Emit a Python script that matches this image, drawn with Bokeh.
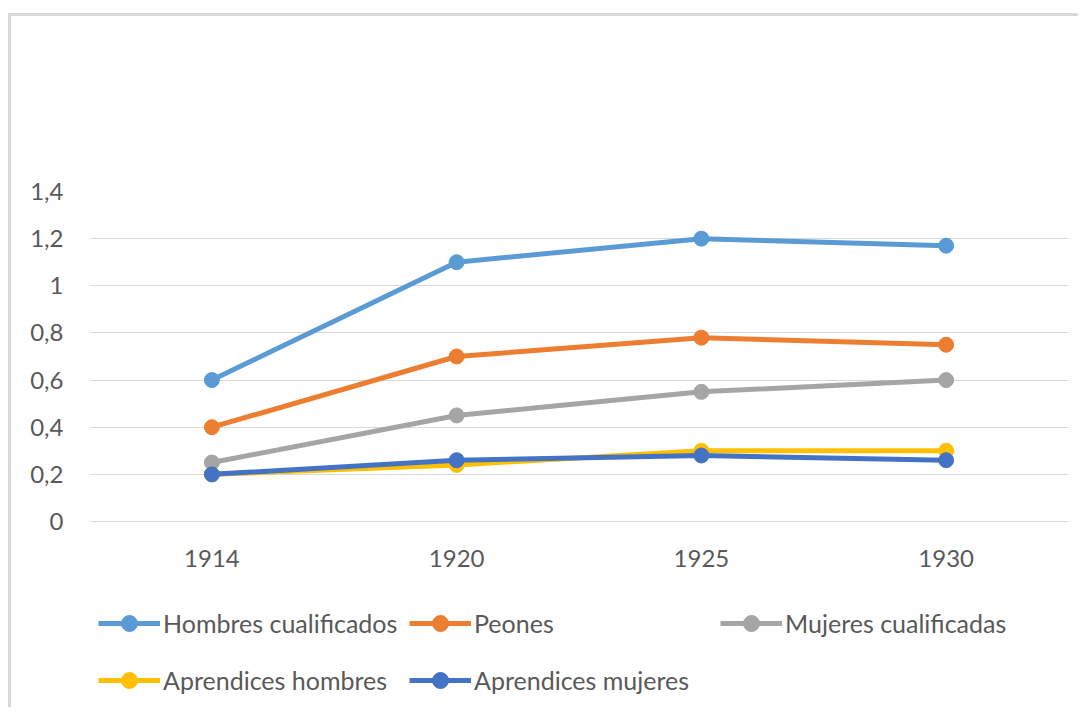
from bokeh.plotting import figure
from bokeh.models import FactorRange, Range1d, FixedTicker, Legend, LegendItem
from bokeh.core.properties import value
from bokeh.embed import file_html
from bokeh.resources import INLINE

years = ["1914", "1920", "1925", "1930"]
hombres_cualificados = [0.6, 1.1, 1.2, 1.17]
peones = [0.4, 0.7, 0.78, 0.75]
mujeres_cualificadas = [0.25, 0.45, 0.55, 0.6]
aprendices_hombres = [0.2, 0.24, 0.3, 0.3]
aprendices_mujeres = [0.2, 0.26, 0.28, 0.26]

series_names = ["Hombres cualificados", "Peones", "Mujeres cualificadas",
                "Aprendices hombres", "Aprendices mujeres"]
series_values = [hombres_cualificados, peones, mujeres_cualificadas,
                 aprendices_hombres, aprendices_mujeres]
colors = ["#5B9BD5", "#ED7D31", "#A5A5A5", "#FFC000", "#4472C4"]

y_ticks = [0, 0.2, 0.4, 0.6, 0.8, 1.0, 1.2, 1.4]
y_tick_labels = ["0", "0,2", "0,4", "0,6", "0,8", "1", "1,2", "1,4"]

FONT = "Lato"
TXT = "#595959"
BORDER = "#d9d9d9"

# frame spans from the plot top down to the bottom of the chart so that the
# legend (drawn inside the frame, below the x labels) is not clipped
p = figure(width=1078, height=707, output_backend="svg", toolbar_location=None,
           x_range=FactorRange(*years, range_padding=0),
           y_range=Range1d(-0.7891, 1.4),
           x_axis_location=None,
           min_border_left=89, min_border_right=10, min_border_top=191, min_border_bottom=0,
           styles={"background": (f"linear-gradient({BORDER},{BORDER}) 8px 13px / 100% 3px no-repeat, "
                                  f"linear-gradient({BORDER},{BORDER}) 8px 13px / 3px 100% no-repeat, white")})
p.outline_line_color = None
p.background_fill_color = None
p.border_fill_color = None

for g in p.grid:
    if g.dimension == 0:
        g.visible = False
        g.grid_line_color = None
p.ygrid.grid_line_color = BORDER
p.ygrid.grid_line_width = 1

yax = p.yaxis[0]
yax.ticker = FixedTicker(ticks=y_ticks)
yax.major_label_overrides = {t: l for t, l in zip(y_ticks, y_tick_labels)}
yax.axis_line_color = None
yax.major_tick_line_color = None
yax.minor_tick_line_color = None
yax.major_tick_in = 0
yax.major_tick_out = 0
yax.major_label_text_font = FONT
yax.major_label_text_font_size = "24px"
yax.major_label_text_color = TXT
yax.major_label_standoff = 26

# category labels under the zero line
p.text(x=years, y=[0] * len(years), text=years, y_offset=37,
       text_align="center", text_baseline="middle",
       text_font=value(FONT), text_font_size="24px", text_color=TXT)

items = []
for name, vals, c in zip(series_names, series_values, colors):
    r1 = p.line(years, vals, line_color=c, line_width=5)
    r2 = p.scatter(years, vals, size=15, fill_color=c, line_color=c)
    items.append(LegendItem(label=name, renderers=[r1, r2]))

def make_legend(its, loc):
    return Legend(items=its, orientation="horizontal", location=loc,
                  glyph_width=62, glyph_height=40, label_height=40, label_width=244,
                  label_standoff=3, spacing=2, padding=0, margin=0,
                  label_text_font=FONT, label_text_font_size="25px",
                  label_text_color=TXT, border_line_color=None,
                  background_fill_alpha=0)

p.add_layout(make_legend(items[:3], (9, 64)), "center")
p.add_layout(make_legend(items[3:], (9, 7)), "center")

open("out.html", "w").write(file_html(p, INLINE))
